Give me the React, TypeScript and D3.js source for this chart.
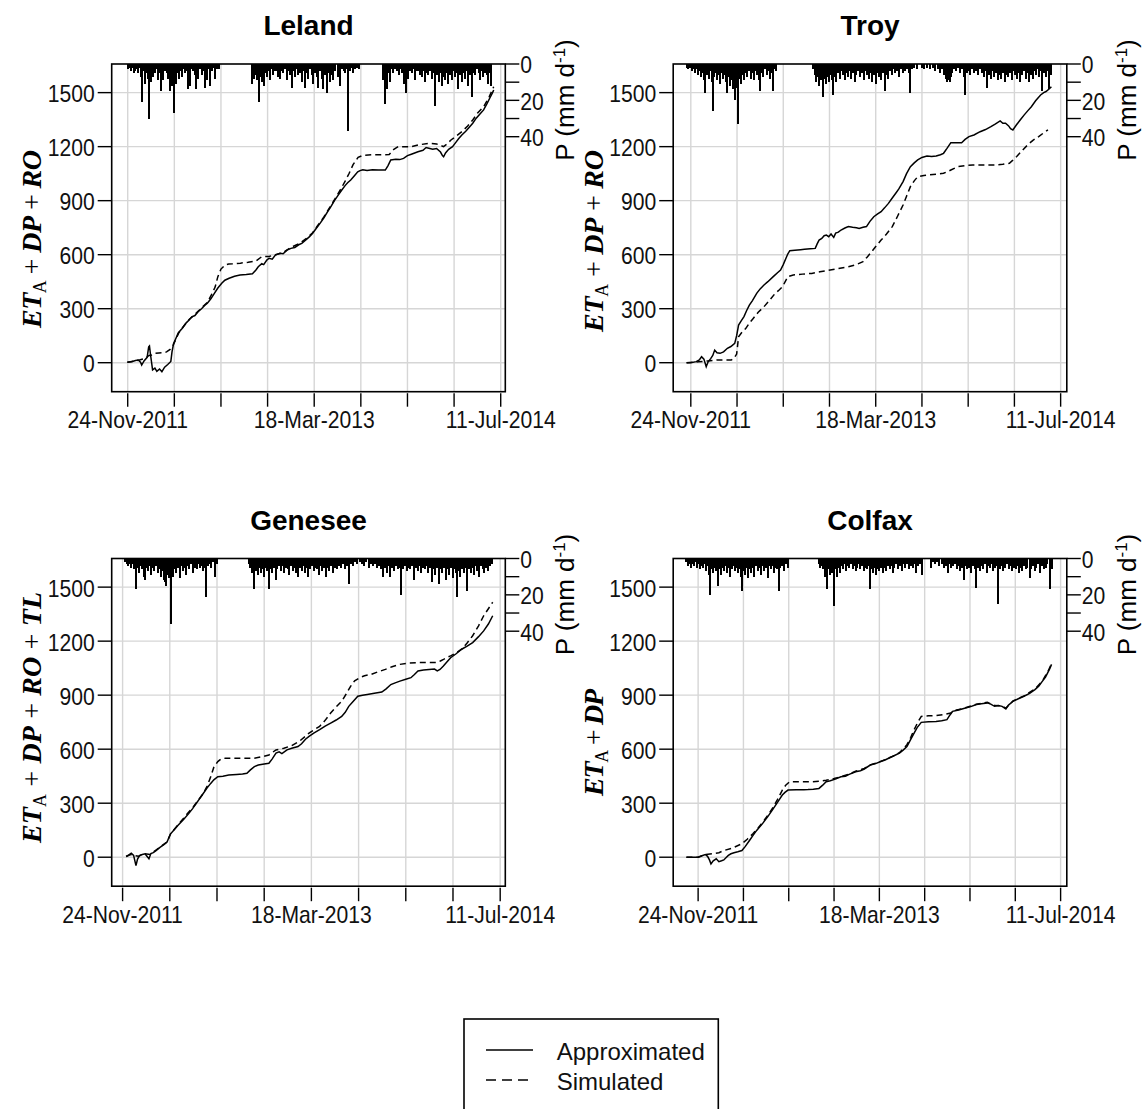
import React from "react";
import * as d3 from "d3";

// ---------- shared axis data ----------
const tickDays = [0, 120, 240, 360, 480, 600, 720, 840, 960]; // days since 24-Nov-2011
const tickLabels = ["24-Nov-2011", "", "", "", "18-Mar-2013", "", "", "", "11-Jul-2014"];
const yTicks = [0, 300, 600, 900, 1200, 1500];
const pTicks = [0, 10, 20, 30, 40];
const pTickLabels = ["0", "", "20", "", "40"];
const yDomain = [-161, 1659];
const pDomain = [0, 40];

// ---------- Leland ----------
const lelandApprox = [[-1,2],[10,5],[20,12],[27,15],[33,3],[36,-13],[42,10],[50,30],[54,88],[56,93],[59,40],[64,-40],[70,-30],[75,-48],[82,-35],[88,-50],[95,-25],[103,-10],[111,7],[114,60],[118,105],[125,140],[130,165],[140,190],[150,220],[158,237],[165,255],[173,262],[181,283],[190,300],[198,318],[205,330],[214,355],[223,385],[232,415],[242,441],[250,458],[261,469],[275,480],[289,487],[305,490],[321,494],[330,515],[336,533],[345,550],[350,545],[358,570],[364,580],[372,575],[380,598],[392,608],[400,605],[410,625],[420,635],[430,640],[440,655],[448,663],[460,685],[468,700],[476,719],[485,745],[495,774],[505,805],[515,840],[523,867],[532,900],[540,925],[551,959],[560,985],[566,1000],[574,1015],[584,1040],[592,1060],[598,1067],[605,1072],[616,1067],[630,1072],[645,1070],[663,1070],[670,1095],[677,1126],[690,1130],[700,1128],[710,1135],[720,1150],[730,1158],[747,1172],[760,1180],[768,1195],[775,1191],[785,1185],[795,1190],[805,1170],[810,1150],[813,1144],[818,1165],[826,1185],[836,1200],[845,1225],[852,1245],[860,1265],[870,1285],[878,1305],[888,1330],[897,1358],[906,1380],[916,1404],[925,1440],[932,1470],[939,1500],[942,1515]];
const lelandSim = [[-1,2],[15,8],[30,15],[45,25],[55,40],[62,43],[70,52],[80,54],[90,55],[100,60],[110,75],[117,98],[124,130],[132,168],[145,205],[158,240],[170,262],[181,285],[195,315],[205,335],[215,375],[225,420],[232,478],[240,520],[251,543],[260,548],[270,549],[290,553],[310,558],[330,565],[345,589],[364,590],[380,600],[400,612],[420,640],[440,660],[460,690],[476,722],[490,765],[505,810],[520,862],[535,915],[550,970],[560,1010],[570,1052],[580,1100],[593,1141],[606,1152],[630,1155],[655,1155],[673,1156],[685,1185],[696,1200],[729,1200],[750,1210],[775,1219],[795,1215],[813,1200],[822,1215],[832,1237],[845,1258],[860,1283],[875,1315],[888,1348],[900,1385],[916,1422],[930,1475],[942,1533]];
const lelandPrecip = [[1,3],[4,2],[8,4],[12,2],[16,5],[19,4],[23,3],[27,5],[31,2],[34,7],[36,21],[40,4],[44,11],[48,5],[52,8],[55,30],[59,10],[63,4],[66,7],[70,5],[75,3],[79,9],[82,5],[85,15],[89,6],[92,9],[96,4],[100,5],[104,8],[109,15],[113,12],[117,7],[119,27],[122,6],[124,11],[128,5],[131,8],[135,4],[139,7],[143,3],[148,5],[151,4],[154,14],[157,5],[160,12],[164,3],[169,4],[172,6],[175,14],[179,4],[182,8],[186,3],[190,6],[194,4],[199,13],[203,5],[205,9],[209,3],[212,12],[217,4],[222,2],[225,8],[230,3],[236,3],
[319,11],[322,5],[325,8],[329,6],[332,9],[335,4],[338,21],[342,7],[345,10],[348,6],[351,12],[355,5],[358,7],[362,4],[366,9],[370,3],[375,6],[380,4],[384,4],[388,7],[392,8],[396,4],[399,5],[404,3],[409,9],[413,4],[418,6],[422,13],[426,4],[431,7],[435,3],[439,6],[444,5],[448,10],[452,4],[456,13],[461,5],[465,8],[469,3],[474,6],[478,11],[482,5],[487,7],[491,13],[495,4],[499,8],[502,14],[507,6],[512,16],[516,5],[521,10],[525,6],[529,9],[534,4],[540,7],[544,5],[547,12],[552,3],[556,4],[559,5],[563,3],[568,37],[572,4],[576,2],[581,5],[586,3],[590,2],[594,3],
[656,9],[659,4],[662,22],[665,7],[668,14],[672,5],[675,10],[679,3],[684,5],[688,3],[692,4],[697,6],[701,3],[705,5],[710,11],[713,6],[716,16],[719,5],[722,8],[726,4],[731,5],[735,3],[740,9],[744,4],[748,4],[752,6],[757,7],[761,4],[765,10],[769,5],[774,6],[778,4],[782,8],[787,5],[791,23],[795,6],[800,10],[804,5],[808,12],[812,7],[817,9],[821,5],[825,11],[829,6],[834,9],[838,4],[843,7],[847,5],[851,14],[855,6],[860,10],[864,5],[868,8],[872,4],[877,12],[881,6],[885,18],[889,5],[894,6],[898,3],[903,5],[907,9],[911,4],[915,7],[919,5],[924,6],[928,11],[931,5],[934,12]];

// ---------- Troy ----------
const troyApprox = [[-11,0],[0,0],[14,6],[22,15],[28,33],[34,20],[40,-22],[45,5],[52,24],[57,40],[62,70],[68,55],[76,52],[85,60],[95,80],[104,90],[114,107],[119,150],[124,209],[130,230],[138,256],[145,290],[152,320],[160,345],[171,385],[180,410],[190,432],[200,450],[214,478],[225,500],[233,515],[240,545],[247,580],[252,605],[257,622],[270,625],[285,628],[295,630],[310,633],[323,635],[328,660],[333,681],[340,690],[346,705],[352,709],[358,700],[364,715],[371,696],[376,720],[383,725],[390,737],[400,748],[409,756],[420,752],[430,750],[437,746],[447,752],[456,756],[465,785],[475,811],[485,826],[494,839],[503,860],[513,885],[522,912],[532,941],[540,965],[551,1006],[560,1050],[570,1089],[580,1110],[589,1126],[600,1140],[613,1148],[625,1145],[637,1148],[648,1155],[656,1163],[665,1190],[675,1222],[690,1222],[703,1222],[712,1240],[722,1256],[735,1265],[751,1283],[765,1295],[779,1311],[790,1325],[803,1343],[810,1330],[817,1330],[825,1315],[830,1300],[836,1293],[845,1320],[855,1348],[865,1375],[875,1400],[884,1422],[895,1455],[908,1487],[916,1500],[922,1506],[930,1520],[936,1533]];
const troySim = [[-11,0],[20,5],[45,10],[67,15],[90,15],[105,15],[112,25],[119,48],[124,144],[133,170],[143,191],[152,220],[162,246],[175,280],[190,311],[205,348],[219,385],[230,405],[238,422],[245,450],[252,478],[266,487],[290,492],[314,496],[335,505],[352,511],[380,522],[409,533],[430,545],[447,561],[457,585],[466,607],[480,645],[494,681],[508,715],[523,756],[537,815],[551,876],[560,925],[570,978],[580,1010],[589,1033],[605,1040],[618,1043],[640,1048],[656,1052],[675,1070],[694,1089],[712,1095],[732,1098],[760,1098],[789,1098],[810,1102],[827,1108],[836,1125],[846,1145],[860,1178],[874,1209],[888,1235],[903,1256],[915,1275],[927,1293]];
const troyPrecip = [[-10,2],[-6,3],[-2,2],[2,4],[6,3],[10,5],[14,3],[18,6],[22,4],[26,7],[30,5],[34,9],[38,16],[42,6],[46,8],[50,4],[54,10],[57,26],[60,7],[64,5],[68,9],[72,6],[76,11],[80,5],[84,8],[88,6],[92,10],[95,16],[99,7],[103,12],[107,9],[110,14],[114,20],[117,10],[120,13],[122,33],[125,8],[129,11],[133,6],[137,9],[141,5],[146,7],[150,4],[155,8],[159,5],[163,9],[168,4],[172,6],[176,9],[180,15],[184,5],[188,7],[193,3],[197,6],[201,4],[205,8],[209,5],[214,15],[218,3],[222,4],
[318,3],[322,6],[326,10],[330,7],[334,12],[338,9],[342,18],[346,8],[350,11],[354,7],[358,10],[362,6],[366,9],[370,17],[374,7],[378,10],[382,5],[386,8],[390,4],[394,6],[399,9],[403,5],[408,7],[412,4],[417,8],[421,5],[426,10],[430,6],[435,4],[440,7],[444,5],[449,9],[453,4],[458,6],[462,8],[467,5],[471,10],[476,6],[480,11],[485,5],[489,7],[494,9],[498,5],[503,15],[507,6],[512,8],[516,4],[521,6],[526,3],[531,5],[536,4],[541,7],[546,3],[551,5],[556,4],[561,3],[566,5],[570,16],[575,3],[580,2],[586,3],
[600,2],[606,3],[612,2],[620,3],[628,2],[635,4],[642,3],[648,5],[653,3],[658,6],[662,8],[666,10],[669,9],[672,10],[675,7],[679,5],[684,3],[688,4],[693,2],[698,5],[703,3],[708,7],[712,17],[716,5],[721,4],[726,6],[731,3],[736,5],[741,4],[746,6],[751,3],[756,5],[760,7],[765,4],[770,13],[774,6],[779,8],[783,4],[788,7],[792,5],[797,9],[801,6],[806,8],[810,5],[815,10],[819,6],[824,7],[828,5],[833,9],[837,4],[842,6],[846,8],[851,5],[855,10],[860,6],[864,4],[869,8],[873,5],[878,10],[882,6],[887,8],[891,4],[896,6],[900,3],[905,7],[909,4],[912,15],[916,5],[921,7],[925,4],[931,14],[935,6]];

// ---------- Genesee ----------
const geneseeApprox = [[9,4],[15,12],[22,22],[28,10],[34,-47],[38,-10],[43,9],[50,15],[57,19],[62,5],[67,-9],[72,20],[78,25],[85,37],[95,55],[105,70],[113,84],[117,105],[122,130],[130,150],[141,177],[155,210],[168,242],[178,270],[187,298],[196,325],[205,354],[215,385],[224,410],[232,430],[242,447],[255,450],[270,456],[290,460],[305,462],[316,466],[325,485],[335,503],[345,512],[360,518],[372,522],[380,545],[390,578],[398,585],[405,575],[418,596],[430,605],[446,615],[455,630],[465,655],[474,671],[487,690],[501,708],[515,728],[529,745],[543,762],[557,782],[566,805],[575,838],[586,865],[598,894],[610,900],[622,904],[640,910],[659,917],[670,935],[682,959],[693,968],[705,978],[720,988],[733,997],[742,1015],[751,1034],[765,1040],[779,1043],[793,1045],[800,1035],[807,1043],[815,1060],[825,1085],[834,1108],[848,1130],[862,1155],[876,1172],[890,1192],[905,1225],[918,1257],[930,1295],[941,1341]];
const geneseeSim = [[9,4],[20,15],[30,10],[40,5],[55,20],[70,15],[85,40],[100,65],[113,84],[122,130],[141,180],[160,230],[180,280],[205,354],[215,395],[224,447],[232,500],[242,531],[250,545],[261,550],[290,550],[320,550],[335,550],[355,558],[372,568],[390,596],[410,605],[430,620],[450,645],[474,689],[490,712],[501,727],[515,760],[529,801],[543,835],[557,866],[568,905],[580,950],[590,980],[603,997],[615,1008],[631,1015],[650,1030],[668,1043],[685,1058],[705,1071],[730,1078],[751,1081],[775,1081],[797,1081],[808,1090],[816,1099],[825,1110],[834,1118],[848,1135],[862,1155],[876,1190],[890,1230],[905,1285],[918,1341],[930,1380],[941,1416]];
const geneseePrecip = [[6,2],[10,3],[14,4],[18,3],[22,5],[26,3],[30,6],[34,17],[38,5],[42,8],[46,4],[50,6],[54,10],[57,12],[61,5],[65,7],[69,4],[73,9],[77,5],[81,7],[85,4],[89,8],[93,6],[97,10],[101,7],[105,12],[108,13],[110,15],[113,9],[117,11],[120,8],[122,36],[125,7],[129,10],[133,6],[137,8],[141,5],[145,11],[149,4],[153,7],[158,5],[162,9],[166,4],[170,6],[175,3],[179,8],[184,5],[188,6],[192,3],[197,5],[201,4],[205,7],[209,5],[212,21],[216,4],[220,3],[225,5],[230,2],[235,10],[240,3],
[321,3],[325,5],[329,8],[332,6],[335,17],[339,7],[343,9],[347,5],[351,8],[355,6],[359,10],[363,5],[368,7],[372,17],[376,6],[380,8],[384,5],[389,12],[393,6],[397,4],[402,7],[406,4],[411,8],[415,5],[420,6],[424,9],[428,4],[433,7],[437,5],[441,8],[446,10],[450,5],[455,7],[459,4],[464,8],[468,5],[472,10],[477,6],[481,4],[486,7],[490,5],[495,6],[499,9],[504,4],[508,7],[513,5],[517,10],[522,5],[526,7],[531,4],[536,8],[540,5],[545,6],[550,4],[555,5],[560,3],[565,6],[570,4],[575,14],[580,3],[586,4],[592,2],[597,3],
[603,2],[609,3],[615,4],[620,2],[626,5],[631,3],[637,4],[642,3],[648,5],[653,4],[658,6],[662,10],[667,5],[671,8],[676,4],[680,10],[685,5],[689,7],[694,4],[699,6],[704,5],[709,20],[713,6],[717,4],[722,7],[726,5],[731,6],[735,4],[741,12],[745,5],[750,7],[754,4],[759,8],[763,5],[768,6],[772,4],[777,8],[781,5],[786,13],[790,6],[795,9],[799,5],[804,14],[808,6],[813,8],[817,5],[822,12],[826,6],[831,9],[835,5],[840,11],[844,6],[848,8],[851,21],[855,7],[859,10],[864,6],[868,8],[872,5],[876,18],[880,6],[885,8],[889,5],[894,9],[898,4],[902,7],[907,10],[911,4],[916,6],[920,8],[925,5],[930,7],[935,4],[940,3]];

// ---------- Colfax ----------
const colfaxApprox = [[-31,0],[-15,0],[0,0],[10,8],[19,15],[25,5],[30,-15],[34,-37],[40,-20],[48,-9],[55,-25],[62,-20],[68,-15],[75,0],[80,10],[87,19],[95,25],[105,30],[116,37],[125,60],[136,93],[145,120],[155,149],[170,185],[184,224],[196,260],[208,298],[215,320],[223,345],[230,360],[238,373],[260,374],[280,375],[291,376],[305,378],[320,382],[330,400],[339,419],[350,425],[365,435],[378,447],[390,450],[400,460],[417,475],[430,480],[440,490],[456,512],[470,520],[482,530],[495,540],[510,555],[520,565],[533,578],[543,595],[553,615],[562,650],[572,689],[580,720],[591,749],[610,752],[630,754],[645,758],[659,764],[667,790],[674,810],[690,818],[708,829],[720,835],[737,848],[750,852],[766,857],[775,850],[785,838],[795,843],[805,838],[815,823],[822,845],[834,866],[848,880],[863,894],[878,910],[892,931],[902,950],[912,978],[920,1000],[926,1025],[931,1045],[936,1071]];
const colfaxSim = [[-31,0],[0,0],[19,15],[40,20],[55,25],[68,37],[90,50],[116,75],[130,100],[145,130],[160,165],[175,205],[187,240],[199,279],[210,320],[223,373],[232,400],[242,419],[260,419],[300,419],[320,422],[339,428],[360,437],[378,447],[400,462],[417,477],[440,493],[456,513],[475,525],[495,542],[515,560],[533,580],[545,605],[553,625],[563,665],[572,708],[582,750],[591,782],[610,785],[630,786],[650,792],[669,801],[680,815],[690,820],[708,830],[737,850],[766,860],[785,842],[805,840],[815,828],[834,868],[863,896],[892,934],[912,980],[926,1030],[936,1075]];
const colfaxPrecip = [[-31,2],[-27,4],[-23,3],[-19,5],[-15,3],[-11,4],[-7,2],[-3,5],[1,3],[5,6],[9,4],[13,5],[17,3],[21,7],[25,4],[29,9],[32,20],[36,6],[40,8],[44,5],[48,7],[53,15],[57,6],[61,9],[65,5],[69,7],[73,4],[77,8],[81,5],[85,10],[89,6],[93,4],[97,7],[101,5],[105,8],[109,6],[113,10],[116,18],[120,7],[124,9],[128,5],[132,11],[136,6],[140,8],[145,5],[149,10],[153,4],[158,7],[162,5],[166,9],[171,4],[175,7],[180,5],[184,11],[188,4],[193,6],[197,4],[202,8],[206,5],[210,6],[213,18],[217,5],[222,4],[227,7],[232,3],[237,5],
[320,3],[324,5],[328,4],[332,6],[336,10],[340,17],[344,6],[348,9],[352,5],[355,8],[359,26],[363,6],[367,10],[371,5],[375,8],[379,4],[383,6],[388,3],[392,7],[396,4],[400,5],[404,3],[409,6],[413,4],[417,7],[421,5],[426,3],[430,6],[434,4],[439,7],[443,5],[448,6],[452,4],[454,17],[458,6],[463,8],[467,5],[471,9],[476,6],[480,7],[484,5],[489,8],[493,5],[498,7],[502,4],[507,6],[511,4],[516,8],[520,5],[525,3],[530,6],[534,4],[539,7],[544,3],[549,5],[553,3],[558,6],[563,4],[568,5],[572,3],[577,8],[582,4],[587,3],[592,9],
[616,5],[621,2],[627,3],[633,2],[639,4],[645,3],[651,5],[656,4],[661,8],[666,3],[671,5],[675,4],[680,3],[685,6],[690,4],[694,7],[699,5],[704,12],[708,4],[713,6],[718,5],[722,8],[727,4],[732,6],[737,16],[741,5],[746,7],[750,4],[755,6],[759,3],[764,8],[768,4],[773,5],[777,3],[782,7],[786,5],[791,4],[795,25],[799,6],[804,4],[808,7],[813,5],[818,3],[822,6],[827,4],[832,7],[836,5],[841,6],[845,4],[850,8],[854,5],[859,7],[863,4],[868,6],[872,5],[878,11],[882,6],[887,4],[891,7],[896,5],[901,3],[906,8],[910,4],[915,6],[920,5],[925,3],[931,17],[936,6]];

const legendLabels = ["Approximated", "Simulated"];

// ---------- layout ----------
const BOX = { l: 111.7, r: 505.3, t: 64, b: 391.7 };
const P_BOTTOM = 136.7;
const SANS = "'Liberation Sans', Arial, Helvetica, sans-serif";
const SERIF = "'Liberation Serif', 'Times New Roman', serif";

const panels = [
  { name: "Leland", ox: 0, oy: 0, xDomain: [-41.2, 971.8], approx: lelandApprox, sim: lelandSim, precip: lelandPrecip, terms: ["DP", "RO"], labelLen: 178, labelCy: 239 },
  { name: "Troy", ox: 561.5, oy: 0, xDomain: [-45.7, 976], approx: troyApprox, sim: troySim, precip: troyPrecip, terms: ["DP", "RO"], labelLen: 182, labelCy: 241 },
  { name: "Genesee", ox: 0, oy: 494.5, xDomain: [-27.7, 973], approx: geneseeApprox, sim: geneseeSim, precip: geneseePrecip, terms: ["DP", "RO", "TL"], labelLen: 251, labelCy: 223 },
  { name: "Colfax", ox: 561.5, oy: 494.5, xDomain: [-66, 976.4], approx: colfaxApprox, sim: colfaxSim, precip: colfaxPrecip, terms: ["DP"], labelLen: 107, labelCy: 248 },
];

function YLabel({ terms, len, cy }: { terms: string[]; len: number; cy: number }) {
  const parts: React.ReactNode[] = [];
  parts.push(<tspan key="et" fontWeight="bold" fontStyle="italic">ET</tspan>);
  parts.push(<tspan key="a" fontSize={18} dy={5}>A</tspan>);
  terms.forEach((t, i) => {
    parts.push(<tspan key={"p" + i} dy={i === 0 ? -5 : 0}>{" + "}</tspan>);
    parts.push(<tspan key={"t" + i} fontWeight="bold" fontStyle="italic">{t}</tspan>);
  });
  return (
    <text transform={`translate(41,${cy}) rotate(-90)`} textAnchor="middle" fontFamily={SERIF} fontSize={28} fill="#000" textLength={len} lengthAdjust="spacing">
      {parts}
    </text>
  );
}

function Panel({ p }: { p: any }) {
  const x = d3.scaleLinear().domain(p.xDomain).range([BOX.l, BOX.r]);
  const y = d3.scaleLinear().domain(yDomain).range([BOX.b, BOX.t]);
  const pr = d3.scaleLinear().domain(pDomain).range([BOX.t, P_BOTTOM]);
  const line = d3.line<number[]>().x((d) => x(d[0])).y((d) => y(d[1]));
  const cx = (BOX.l + BOX.r) / 2;
  return (
    <g transform={`translate(${p.ox},${p.oy})`}>
      <text x={cx} y={35} textAnchor="middle" fontFamily={SANS} fontWeight="bold" fontSize={28} fill="#000">{p.name}</text>
      {/* grid */}
      {tickDays.map((d) => (
        <line key={"gx" + d} x1={x(d)} x2={x(d)} y1={BOX.t} y2={BOX.b} stroke="#d6d6d6" strokeWidth={1.4} />
      ))}
      {yTicks.map((v) => (
        <line key={"gy" + v} x1={BOX.l} x2={BOX.r} y1={y(v)} y2={y(v)} stroke="#d6d6d6" strokeWidth={1.4} />
      ))}
      {/* precipitation bars */}
      {p.precip.map((d: number[], i: number) => (
        <line key={"pb" + i} x1={x(d[0])} x2={x(d[0])} y1={BOX.t} y2={pr(d[1])} stroke="#000" strokeWidth={2} shapeRendering="crispEdges" />
      ))}
      {/* series */}
      <path d={line(p.sim) || ""} fill="none" stroke="#000" strokeWidth={1.5} strokeDasharray="6,4" />
      <path d={line(p.approx) || ""} fill="none" stroke="#000" strokeWidth={1.5} />
      {/* box */}
      <rect x={BOX.l} y={BOX.t} width={BOX.r - BOX.l} height={BOX.b - BOX.t} fill="none" stroke="#000" strokeWidth={1.6} />
      {/* left axis */}
      {yTicks.map((v) => (
        <g key={"yt" + v}>
          <line x1={BOX.l - 14} x2={BOX.l} y1={y(v)} y2={y(v)} stroke="#000" strokeWidth={1.4} />
          <text transform={`translate(${BOX.l - 17},${y(v) + 9.5}) scale(0.88,1)`} textAnchor="end" fontFamily={SANS} fontSize={24} fill="#111">{v}</text>
        </g>
      ))}
      {/* bottom axis */}
      {tickDays.map((d, i) => (
        <g key={"xt" + d}>
          <line x1={x(d)} x2={x(d)} y1={BOX.b + 1.5} y2={BOX.b + 15} stroke="#000" strokeWidth={1.4} />
          {tickLabels[i] ? (
            <text transform={`translate(${x(d)},${428.3}) scale(0.88,1)`} textAnchor="middle" fontFamily={SANS} fontSize={24} fill="#111">{tickLabels[i]}</text>
          ) : null}
        </g>
      ))}
      {/* right precipitation axis */}
      {pTicks.map((v, i) => (
        <g key={"pt" + v}>
          <line x1={BOX.r} x2={BOX.r + 14} y1={pr(v)} y2={pr(v)} stroke="#000" strokeWidth={1.4} />
          {pTickLabels[i] ? (
            <text transform={`translate(${BOX.r + 15},${pr(v) + 9.3}) scale(0.88,1)`} fontFamily={SANS} fontSize={24} fill="#111">{pTickLabels[i]}</text>
          ) : null}
        </g>
      ))}
      <text transform={`translate(${BOX.r + 69},100) rotate(-90)`} textAnchor="middle" fontFamily={SANS} fontSize={26} fill="#000">
        P (mm d<tspan dy={-9} fontSize={17}>-1</tspan><tspan dy={9}>)</tspan>
      </text>
      <YLabel terms={p.terms} len={p.labelLen} cy={p.labelCy} />
    </g>
  );
}

export default function App() {
  return (
    <svg width={1144} height={1109} style={{ position: "absolute", left: 0, top: 0, background: "#fff" }} xmlns="http://www.w3.org/2000/svg">
      <rect x={0} y={0} width={1144} height={1109} fill="#fff" />
      {panels.map((p) => (
        <Panel key={p.name} p={p} />
      ))}
      {/* legend */}
      <g>
        <rect x={464} y={1019} width={254.3} height={100} fill="#fff" stroke="#000" strokeWidth={1.6} />
        <line x1={486} x2={533} y1={1050} y2={1050} stroke="#000" strokeWidth={1.5} />
        <line x1={486} x2={533} y1={1080} y2={1080} stroke="#000" strokeWidth={1.5} strokeDasharray="10,6" />
        <text x={556.7} y={1060} fontFamily={SANS} fontSize={24} fill="#111">{legendLabels[0]}</text>
        <text x={556.7} y={1090} fontFamily={SANS} fontSize={24} fill="#111">{legendLabels[1]}</text>
      </g>
    </svg>
  );
}
